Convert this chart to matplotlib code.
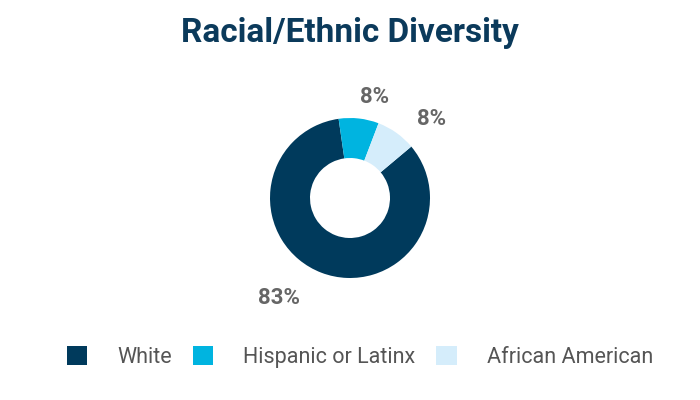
import numpy as np
import matplotlib
matplotlib.use("Agg")
import matplotlib.pyplot as plt
from matplotlib.patches import Patch

categories = ["White", "Hispanic or Latinx", "African American"]
values = [83, 8, 8]
colors = ["#003a5c", "#00b4e0", "#d5edfb"]
title = "Racial/Ethnic Diversity"

plt.rcParams["font.family"] = ["Roboto", "DejaVu Sans"]

fig = plt.figure(figsize=(7, 4), dpi=100)
fig.patch.set_facecolor("white")

# donut: center ~ (350, 198) px, outer radius ~80 px
R = 80
half = 1.6
ax = fig.add_axes([(350 - R * half) / 700, (202 - R * half) / 400,
                   2 * R * half / 700, 2 * R * half / 400])
wedges, _ = ax.pie(values, colors=colors, startangle=40, counterclock=False,
                   radius=1, wedgeprops=dict(width=0.5, edgecolor="none"))
ax.set_xlim(-half, half)
ax.set_ylim(-half, half)
ax.set_aspect("equal")
ax.axis("off")

# outside labels, offset from the wedge's outer edge midpoint
offsets = [(-30.6, -18.2), (11.5, 15.5), (25.6, 10)]
for w, v, off in zip(wedges, values, offsets):
    mid = np.deg2rad((w.theta1 + w.theta2) / 2)
    ax.annotate(f"{v}%", xy=(np.cos(mid), np.sin(mid)), xytext=off,
                textcoords="offset points", ha="center", va="center",
                fontsize=16, fontweight="bold", color="#666666",
                annotation_clip=False)

fig.text(0.5, 1 - 33 / 400, title, ha="center", va="center",
         fontsize=24, fontweight="bold", color="#0b3a5b")

handles = [Patch(facecolor=c, edgecolor="none") for c in colors]
fig.legend(handles, categories, loc="center", bbox_to_anchor=(360 / 700, 1 - 357 / 400),
           ncol=3, frameon=False, fontsize=15.5, labelcolor="#555555",
           handlelength=0.95, handleheight=1.0, handletextpad=1.4,
           columnspacing=0.97)

fig.savefig("out.png", dpi=100)
